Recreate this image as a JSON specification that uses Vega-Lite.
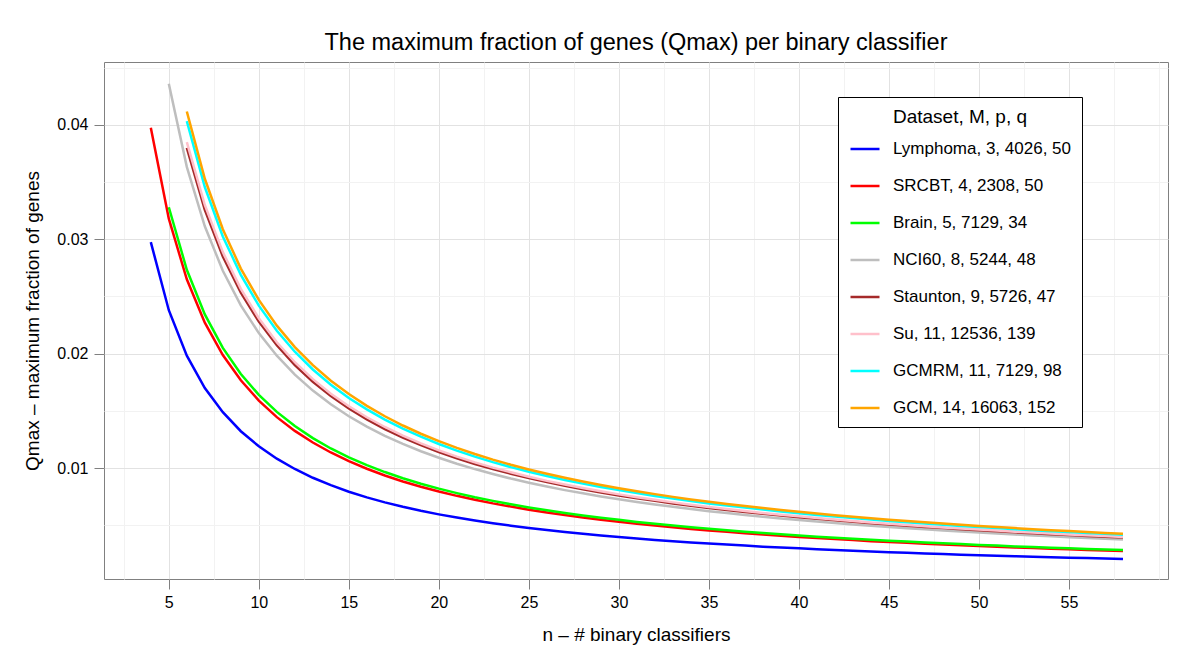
{
"$schema": "https://vega.github.io/schema/vega-lite/v6.json",
"width": 1064, "height": 517,
"autosize": {"type": "none"},
"padding": {"left": 104, "top": 62, "right": 32, "bottom": 86},
"background": "white",
"config": {"font": "Liberation Sans", "view": {"stroke": "#808080", "strokeWidth": 1}},
"title": {"text": "The maximum fraction of genes (Qmax) per binary classifier", "fontSize": 23.5, "fontWeight": "normal", "color": "black", "offset": 5},
"data": {"values": [
{"d":"Lymphoma, 3, 4026, 50","n":4,"q":0.02975},{"d":"Lymphoma, 3, 4026, 50","n":5,"q":0.0238},{"d":"Lymphoma, 3, 4026, 50","n":6,"q":0.01983},{"d":"Lymphoma, 3, 4026, 50","n":7,"q":0.017},{"d":"Lymphoma, 3, 4026, 50","n":8,"q":0.01488},{"d":"Lymphoma, 3, 4026, 50","n":9,"q":0.01322},{"d":"Lymphoma, 3, 4026, 50","n":10,"q":0.0119},{"d":"Lymphoma, 3, 4026, 50","n":11,"q":0.01082},{"d":"Lymphoma, 3, 4026, 50","n":12,"q":0.00992},{"d":"Lymphoma, 3, 4026, 50","n":13,"q":0.00915},{"d":"Lymphoma, 3, 4026, 50","n":14,"q":0.0085},{"d":"Lymphoma, 3, 4026, 50","n":15,"q":0.00793},{"d":"Lymphoma, 3, 4026, 50","n":16,"q":0.00744},{"d":"Lymphoma, 3, 4026, 50","n":17,"q":0.007},{"d":"Lymphoma, 3, 4026, 50","n":18,"q":0.00661},{"d":"Lymphoma, 3, 4026, 50","n":19,"q":0.00626},{"d":"Lymphoma, 3, 4026, 50","n":20,"q":0.00595},{"d":"Lymphoma, 3, 4026, 50","n":21,"q":0.00567},{"d":"Lymphoma, 3, 4026, 50","n":22,"q":0.00541},{"d":"Lymphoma, 3, 4026, 50","n":23,"q":0.00517},{"d":"Lymphoma, 3, 4026, 50","n":24,"q":0.00496},{"d":"Lymphoma, 3, 4026, 50","n":25,"q":0.00476},{"d":"Lymphoma, 3, 4026, 50","n":26,"q":0.00458},{"d":"Lymphoma, 3, 4026, 50","n":27,"q":0.00441},{"d":"Lymphoma, 3, 4026, 50","n":28,"q":0.00425},{"d":"Lymphoma, 3, 4026, 50","n":29,"q":0.0041},{"d":"Lymphoma, 3, 4026, 50","n":30,"q":0.00397},{"d":"Lymphoma, 3, 4026, 50","n":31,"q":0.00384},{"d":"Lymphoma, 3, 4026, 50","n":32,"q":0.00372},{"d":"Lymphoma, 3, 4026, 50","n":33,"q":0.00361},{"d":"Lymphoma, 3, 4026, 50","n":34,"q":0.0035},{"d":"Lymphoma, 3, 4026, 50","n":35,"q":0.0034},{"d":"Lymphoma, 3, 4026, 50","n":36,"q":0.00331},{"d":"Lymphoma, 3, 4026, 50","n":37,"q":0.00322},{"d":"Lymphoma, 3, 4026, 50","n":38,"q":0.00313},{"d":"Lymphoma, 3, 4026, 50","n":39,"q":0.00305},{"d":"Lymphoma, 3, 4026, 50","n":40,"q":0.00298},{"d":"Lymphoma, 3, 4026, 50","n":41,"q":0.0029},{"d":"Lymphoma, 3, 4026, 50","n":42,"q":0.00283},{"d":"Lymphoma, 3, 4026, 50","n":43,"q":0.00277},{"d":"Lymphoma, 3, 4026, 50","n":44,"q":0.0027},{"d":"Lymphoma, 3, 4026, 50","n":45,"q":0.00264},{"d":"Lymphoma, 3, 4026, 50","n":46,"q":0.00259},{"d":"Lymphoma, 3, 4026, 50","n":47,"q":0.00253},{"d":"Lymphoma, 3, 4026, 50","n":48,"q":0.00248},{"d":"Lymphoma, 3, 4026, 50","n":49,"q":0.00243},{"d":"Lymphoma, 3, 4026, 50","n":50,"q":0.00238},{"d":"Lymphoma, 3, 4026, 50","n":51,"q":0.00233},{"d":"Lymphoma, 3, 4026, 50","n":52,"q":0.00229},{"d":"Lymphoma, 3, 4026, 50","n":53,"q":0.00225},{"d":"Lymphoma, 3, 4026, 50","n":54,"q":0.0022},{"d":"Lymphoma, 3, 4026, 50","n":55,"q":0.00216},{"d":"Lymphoma, 3, 4026, 50","n":56,"q":0.00213},{"d":"Lymphoma, 3, 4026, 50","n":57,"q":0.00209},{"d":"Lymphoma, 3, 4026, 50","n":58,"q":0.00205},
{"d":"SRCBT, 4, 2308, 50","n":4,"q":0.03975},{"d":"SRCBT, 4, 2308, 50","n":5,"q":0.0318},{"d":"SRCBT, 4, 2308, 50","n":6,"q":0.0265},{"d":"SRCBT, 4, 2308, 50","n":7,"q":0.02271},{"d":"SRCBT, 4, 2308, 50","n":8,"q":0.01988},{"d":"SRCBT, 4, 2308, 50","n":9,"q":0.01767},{"d":"SRCBT, 4, 2308, 50","n":10,"q":0.0159},{"d":"SRCBT, 4, 2308, 50","n":11,"q":0.01445},{"d":"SRCBT, 4, 2308, 50","n":12,"q":0.01325},{"d":"SRCBT, 4, 2308, 50","n":13,"q":0.01223},{"d":"SRCBT, 4, 2308, 50","n":14,"q":0.01136},{"d":"SRCBT, 4, 2308, 50","n":15,"q":0.0106},{"d":"SRCBT, 4, 2308, 50","n":16,"q":0.00994},{"d":"SRCBT, 4, 2308, 50","n":17,"q":0.00935},{"d":"SRCBT, 4, 2308, 50","n":18,"q":0.00883},{"d":"SRCBT, 4, 2308, 50","n":19,"q":0.00837},{"d":"SRCBT, 4, 2308, 50","n":20,"q":0.00795},{"d":"SRCBT, 4, 2308, 50","n":21,"q":0.00757},{"d":"SRCBT, 4, 2308, 50","n":22,"q":0.00723},{"d":"SRCBT, 4, 2308, 50","n":23,"q":0.00691},{"d":"SRCBT, 4, 2308, 50","n":24,"q":0.00663},{"d":"SRCBT, 4, 2308, 50","n":25,"q":0.00636},{"d":"SRCBT, 4, 2308, 50","n":26,"q":0.00612},{"d":"SRCBT, 4, 2308, 50","n":27,"q":0.00589},{"d":"SRCBT, 4, 2308, 50","n":28,"q":0.00568},{"d":"SRCBT, 4, 2308, 50","n":29,"q":0.00548},{"d":"SRCBT, 4, 2308, 50","n":30,"q":0.0053},{"d":"SRCBT, 4, 2308, 50","n":31,"q":0.00513},{"d":"SRCBT, 4, 2308, 50","n":32,"q":0.00497},{"d":"SRCBT, 4, 2308, 50","n":33,"q":0.00482},{"d":"SRCBT, 4, 2308, 50","n":34,"q":0.00468},{"d":"SRCBT, 4, 2308, 50","n":35,"q":0.00454},{"d":"SRCBT, 4, 2308, 50","n":36,"q":0.00442},{"d":"SRCBT, 4, 2308, 50","n":37,"q":0.0043},{"d":"SRCBT, 4, 2308, 50","n":38,"q":0.00418},{"d":"SRCBT, 4, 2308, 50","n":39,"q":0.00408},{"d":"SRCBT, 4, 2308, 50","n":40,"q":0.00398},{"d":"SRCBT, 4, 2308, 50","n":41,"q":0.00388},{"d":"SRCBT, 4, 2308, 50","n":42,"q":0.00379},{"d":"SRCBT, 4, 2308, 50","n":43,"q":0.0037},{"d":"SRCBT, 4, 2308, 50","n":44,"q":0.00361},{"d":"SRCBT, 4, 2308, 50","n":45,"q":0.00353},{"d":"SRCBT, 4, 2308, 50","n":46,"q":0.00346},{"d":"SRCBT, 4, 2308, 50","n":47,"q":0.00338},{"d":"SRCBT, 4, 2308, 50","n":48,"q":0.00331},{"d":"SRCBT, 4, 2308, 50","n":49,"q":0.00324},{"d":"SRCBT, 4, 2308, 50","n":50,"q":0.00318},{"d":"SRCBT, 4, 2308, 50","n":51,"q":0.00312},{"d":"SRCBT, 4, 2308, 50","n":52,"q":0.00306},{"d":"SRCBT, 4, 2308, 50","n":53,"q":0.003},{"d":"SRCBT, 4, 2308, 50","n":54,"q":0.00294},{"d":"SRCBT, 4, 2308, 50","n":55,"q":0.00289},{"d":"SRCBT, 4, 2308, 50","n":56,"q":0.00284},{"d":"SRCBT, 4, 2308, 50","n":57,"q":0.00279},{"d":"SRCBT, 4, 2308, 50","n":58,"q":0.00274},
{"d":"Brain, 5, 7129, 34","n":5,"q":0.0328},{"d":"Brain, 5, 7129, 34","n":6,"q":0.02733},{"d":"Brain, 5, 7129, 34","n":7,"q":0.02343},{"d":"Brain, 5, 7129, 34","n":8,"q":0.0205},{"d":"Brain, 5, 7129, 34","n":9,"q":0.01822},{"d":"Brain, 5, 7129, 34","n":10,"q":0.0164},{"d":"Brain, 5, 7129, 34","n":11,"q":0.01491},{"d":"Brain, 5, 7129, 34","n":12,"q":0.01367},{"d":"Brain, 5, 7129, 34","n":13,"q":0.01262},{"d":"Brain, 5, 7129, 34","n":14,"q":0.01171},{"d":"Brain, 5, 7129, 34","n":15,"q":0.01093},{"d":"Brain, 5, 7129, 34","n":16,"q":0.01025},{"d":"Brain, 5, 7129, 34","n":17,"q":0.00965},{"d":"Brain, 5, 7129, 34","n":18,"q":0.00911},{"d":"Brain, 5, 7129, 34","n":19,"q":0.00863},{"d":"Brain, 5, 7129, 34","n":20,"q":0.0082},{"d":"Brain, 5, 7129, 34","n":21,"q":0.00781},{"d":"Brain, 5, 7129, 34","n":22,"q":0.00745},{"d":"Brain, 5, 7129, 34","n":23,"q":0.00713},{"d":"Brain, 5, 7129, 34","n":24,"q":0.00683},{"d":"Brain, 5, 7129, 34","n":25,"q":0.00656},{"d":"Brain, 5, 7129, 34","n":26,"q":0.00631},{"d":"Brain, 5, 7129, 34","n":27,"q":0.00607},{"d":"Brain, 5, 7129, 34","n":28,"q":0.00586},{"d":"Brain, 5, 7129, 34","n":29,"q":0.00566},{"d":"Brain, 5, 7129, 34","n":30,"q":0.00547},{"d":"Brain, 5, 7129, 34","n":31,"q":0.00529},{"d":"Brain, 5, 7129, 34","n":32,"q":0.00513},{"d":"Brain, 5, 7129, 34","n":33,"q":0.00497},{"d":"Brain, 5, 7129, 34","n":34,"q":0.00482},{"d":"Brain, 5, 7129, 34","n":35,"q":0.00469},{"d":"Brain, 5, 7129, 34","n":36,"q":0.00456},{"d":"Brain, 5, 7129, 34","n":37,"q":0.00443},{"d":"Brain, 5, 7129, 34","n":38,"q":0.00432},{"d":"Brain, 5, 7129, 34","n":39,"q":0.00421},{"d":"Brain, 5, 7129, 34","n":40,"q":0.0041},{"d":"Brain, 5, 7129, 34","n":41,"q":0.004},{"d":"Brain, 5, 7129, 34","n":42,"q":0.0039},{"d":"Brain, 5, 7129, 34","n":43,"q":0.00381},{"d":"Brain, 5, 7129, 34","n":44,"q":0.00373},{"d":"Brain, 5, 7129, 34","n":45,"q":0.00364},{"d":"Brain, 5, 7129, 34","n":46,"q":0.00357},{"d":"Brain, 5, 7129, 34","n":47,"q":0.00349},{"d":"Brain, 5, 7129, 34","n":48,"q":0.00342},{"d":"Brain, 5, 7129, 34","n":49,"q":0.00335},{"d":"Brain, 5, 7129, 34","n":50,"q":0.00328},{"d":"Brain, 5, 7129, 34","n":51,"q":0.00322},{"d":"Brain, 5, 7129, 34","n":52,"q":0.00315},{"d":"Brain, 5, 7129, 34","n":53,"q":0.00309},{"d":"Brain, 5, 7129, 34","n":54,"q":0.00304},{"d":"Brain, 5, 7129, 34","n":55,"q":0.00298},{"d":"Brain, 5, 7129, 34","n":56,"q":0.00293},{"d":"Brain, 5, 7129, 34","n":57,"q":0.00288},{"d":"Brain, 5, 7129, 34","n":58,"q":0.00283},
{"d":"NCI60, 8, 5244, 48","n":5,"q":0.0436},{"d":"NCI60, 8, 5244, 48","n":6,"q":0.03633},{"d":"NCI60, 8, 5244, 48","n":7,"q":0.03114},{"d":"NCI60, 8, 5244, 48","n":8,"q":0.02725},{"d":"NCI60, 8, 5244, 48","n":9,"q":0.02422},{"d":"NCI60, 8, 5244, 48","n":10,"q":0.0218},{"d":"NCI60, 8, 5244, 48","n":11,"q":0.01982},{"d":"NCI60, 8, 5244, 48","n":12,"q":0.01817},{"d":"NCI60, 8, 5244, 48","n":13,"q":0.01677},{"d":"NCI60, 8, 5244, 48","n":14,"q":0.01557},{"d":"NCI60, 8, 5244, 48","n":15,"q":0.01453},{"d":"NCI60, 8, 5244, 48","n":16,"q":0.01363},{"d":"NCI60, 8, 5244, 48","n":17,"q":0.01282},{"d":"NCI60, 8, 5244, 48","n":18,"q":0.01211},{"d":"NCI60, 8, 5244, 48","n":19,"q":0.01147},{"d":"NCI60, 8, 5244, 48","n":20,"q":0.0109},{"d":"NCI60, 8, 5244, 48","n":21,"q":0.01038},{"d":"NCI60, 8, 5244, 48","n":22,"q":0.00991},{"d":"NCI60, 8, 5244, 48","n":23,"q":0.00948},{"d":"NCI60, 8, 5244, 48","n":24,"q":0.00908},{"d":"NCI60, 8, 5244, 48","n":25,"q":0.00872},{"d":"NCI60, 8, 5244, 48","n":26,"q":0.00838},{"d":"NCI60, 8, 5244, 48","n":27,"q":0.00807},{"d":"NCI60, 8, 5244, 48","n":28,"q":0.00779},{"d":"NCI60, 8, 5244, 48","n":29,"q":0.00752},{"d":"NCI60, 8, 5244, 48","n":30,"q":0.00727},{"d":"NCI60, 8, 5244, 48","n":31,"q":0.00703},{"d":"NCI60, 8, 5244, 48","n":32,"q":0.00681},{"d":"NCI60, 8, 5244, 48","n":33,"q":0.00661},{"d":"NCI60, 8, 5244, 48","n":34,"q":0.00641},{"d":"NCI60, 8, 5244, 48","n":35,"q":0.00623},{"d":"NCI60, 8, 5244, 48","n":36,"q":0.00606},{"d":"NCI60, 8, 5244, 48","n":37,"q":0.00589},{"d":"NCI60, 8, 5244, 48","n":38,"q":0.00574},{"d":"NCI60, 8, 5244, 48","n":39,"q":0.00559},{"d":"NCI60, 8, 5244, 48","n":40,"q":0.00545},{"d":"NCI60, 8, 5244, 48","n":41,"q":0.00532},{"d":"NCI60, 8, 5244, 48","n":42,"q":0.00519},{"d":"NCI60, 8, 5244, 48","n":43,"q":0.00507},{"d":"NCI60, 8, 5244, 48","n":44,"q":0.00495},{"d":"NCI60, 8, 5244, 48","n":45,"q":0.00484},{"d":"NCI60, 8, 5244, 48","n":46,"q":0.00474},{"d":"NCI60, 8, 5244, 48","n":47,"q":0.00464},{"d":"NCI60, 8, 5244, 48","n":48,"q":0.00454},{"d":"NCI60, 8, 5244, 48","n":49,"q":0.00445},{"d":"NCI60, 8, 5244, 48","n":50,"q":0.00436},{"d":"NCI60, 8, 5244, 48","n":51,"q":0.00427},{"d":"NCI60, 8, 5244, 48","n":52,"q":0.00419},{"d":"NCI60, 8, 5244, 48","n":53,"q":0.00411},{"d":"NCI60, 8, 5244, 48","n":54,"q":0.00404},{"d":"NCI60, 8, 5244, 48","n":55,"q":0.00396},{"d":"NCI60, 8, 5244, 48","n":56,"q":0.00389},{"d":"NCI60, 8, 5244, 48","n":57,"q":0.00382},{"d":"NCI60, 8, 5244, 48","n":58,"q":0.00376},
{"d":"Staunton, 9, 5726, 47","n":6,"q":0.038},{"d":"Staunton, 9, 5726, 47","n":7,"q":0.03257},{"d":"Staunton, 9, 5726, 47","n":8,"q":0.0285},{"d":"Staunton, 9, 5726, 47","n":9,"q":0.02533},{"d":"Staunton, 9, 5726, 47","n":10,"q":0.0228},{"d":"Staunton, 9, 5726, 47","n":11,"q":0.02073},{"d":"Staunton, 9, 5726, 47","n":12,"q":0.019},{"d":"Staunton, 9, 5726, 47","n":13,"q":0.01754},{"d":"Staunton, 9, 5726, 47","n":14,"q":0.01629},{"d":"Staunton, 9, 5726, 47","n":15,"q":0.0152},{"d":"Staunton, 9, 5726, 47","n":16,"q":0.01425},{"d":"Staunton, 9, 5726, 47","n":17,"q":0.01341},{"d":"Staunton, 9, 5726, 47","n":18,"q":0.01267},{"d":"Staunton, 9, 5726, 47","n":19,"q":0.012},{"d":"Staunton, 9, 5726, 47","n":20,"q":0.0114},{"d":"Staunton, 9, 5726, 47","n":21,"q":0.01086},{"d":"Staunton, 9, 5726, 47","n":22,"q":0.01036},{"d":"Staunton, 9, 5726, 47","n":23,"q":0.00991},{"d":"Staunton, 9, 5726, 47","n":24,"q":0.0095},{"d":"Staunton, 9, 5726, 47","n":25,"q":0.00912},{"d":"Staunton, 9, 5726, 47","n":26,"q":0.00877},{"d":"Staunton, 9, 5726, 47","n":27,"q":0.00844},{"d":"Staunton, 9, 5726, 47","n":28,"q":0.00814},{"d":"Staunton, 9, 5726, 47","n":29,"q":0.00786},{"d":"Staunton, 9, 5726, 47","n":30,"q":0.0076},{"d":"Staunton, 9, 5726, 47","n":31,"q":0.00735},{"d":"Staunton, 9, 5726, 47","n":32,"q":0.00713},{"d":"Staunton, 9, 5726, 47","n":33,"q":0.00691},{"d":"Staunton, 9, 5726, 47","n":34,"q":0.00671},{"d":"Staunton, 9, 5726, 47","n":35,"q":0.00651},{"d":"Staunton, 9, 5726, 47","n":36,"q":0.00633},{"d":"Staunton, 9, 5726, 47","n":37,"q":0.00616},{"d":"Staunton, 9, 5726, 47","n":38,"q":0.006},{"d":"Staunton, 9, 5726, 47","n":39,"q":0.00585},{"d":"Staunton, 9, 5726, 47","n":40,"q":0.0057},{"d":"Staunton, 9, 5726, 47","n":41,"q":0.00556},{"d":"Staunton, 9, 5726, 47","n":42,"q":0.00543},{"d":"Staunton, 9, 5726, 47","n":43,"q":0.0053},{"d":"Staunton, 9, 5726, 47","n":44,"q":0.00518},{"d":"Staunton, 9, 5726, 47","n":45,"q":0.00507},{"d":"Staunton, 9, 5726, 47","n":46,"q":0.00496},{"d":"Staunton, 9, 5726, 47","n":47,"q":0.00485},{"d":"Staunton, 9, 5726, 47","n":48,"q":0.00475},{"d":"Staunton, 9, 5726, 47","n":49,"q":0.00465},{"d":"Staunton, 9, 5726, 47","n":50,"q":0.00456},{"d":"Staunton, 9, 5726, 47","n":51,"q":0.00447},{"d":"Staunton, 9, 5726, 47","n":52,"q":0.00438},{"d":"Staunton, 9, 5726, 47","n":53,"q":0.0043},{"d":"Staunton, 9, 5726, 47","n":54,"q":0.00422},{"d":"Staunton, 9, 5726, 47","n":55,"q":0.00415},{"d":"Staunton, 9, 5726, 47","n":56,"q":0.00407},{"d":"Staunton, 9, 5726, 47","n":57,"q":0.004},{"d":"Staunton, 9, 5726, 47","n":58,"q":0.00393},
{"d":"Su, 11, 12536, 139","n":6,"q":0.0385},{"d":"Su, 11, 12536, 139","n":7,"q":0.033},{"d":"Su, 11, 12536, 139","n":8,"q":0.02888},{"d":"Su, 11, 12536, 139","n":9,"q":0.02567},{"d":"Su, 11, 12536, 139","n":10,"q":0.0231},{"d":"Su, 11, 12536, 139","n":11,"q":0.021},{"d":"Su, 11, 12536, 139","n":12,"q":0.01925},{"d":"Su, 11, 12536, 139","n":13,"q":0.01777},{"d":"Su, 11, 12536, 139","n":14,"q":0.0165},{"d":"Su, 11, 12536, 139","n":15,"q":0.0154},{"d":"Su, 11, 12536, 139","n":16,"q":0.01444},{"d":"Su, 11, 12536, 139","n":17,"q":0.01359},{"d":"Su, 11, 12536, 139","n":18,"q":0.01283},{"d":"Su, 11, 12536, 139","n":19,"q":0.01216},{"d":"Su, 11, 12536, 139","n":20,"q":0.01155},{"d":"Su, 11, 12536, 139","n":21,"q":0.011},{"d":"Su, 11, 12536, 139","n":22,"q":0.0105},{"d":"Su, 11, 12536, 139","n":23,"q":0.01004},{"d":"Su, 11, 12536, 139","n":24,"q":0.00963},{"d":"Su, 11, 12536, 139","n":25,"q":0.00924},{"d":"Su, 11, 12536, 139","n":26,"q":0.00888},{"d":"Su, 11, 12536, 139","n":27,"q":0.00856},{"d":"Su, 11, 12536, 139","n":28,"q":0.00825},{"d":"Su, 11, 12536, 139","n":29,"q":0.00797},{"d":"Su, 11, 12536, 139","n":30,"q":0.0077},{"d":"Su, 11, 12536, 139","n":31,"q":0.00745},{"d":"Su, 11, 12536, 139","n":32,"q":0.00722},{"d":"Su, 11, 12536, 139","n":33,"q":0.007},{"d":"Su, 11, 12536, 139","n":34,"q":0.00679},{"d":"Su, 11, 12536, 139","n":35,"q":0.0066},{"d":"Su, 11, 12536, 139","n":36,"q":0.00642},{"d":"Su, 11, 12536, 139","n":37,"q":0.00624},{"d":"Su, 11, 12536, 139","n":38,"q":0.00608},{"d":"Su, 11, 12536, 139","n":39,"q":0.00592},{"d":"Su, 11, 12536, 139","n":40,"q":0.00578},{"d":"Su, 11, 12536, 139","n":41,"q":0.00563},{"d":"Su, 11, 12536, 139","n":42,"q":0.0055},{"d":"Su, 11, 12536, 139","n":43,"q":0.00537},{"d":"Su, 11, 12536, 139","n":44,"q":0.00525},{"d":"Su, 11, 12536, 139","n":45,"q":0.00513},{"d":"Su, 11, 12536, 139","n":46,"q":0.00502},{"d":"Su, 11, 12536, 139","n":47,"q":0.00491},{"d":"Su, 11, 12536, 139","n":48,"q":0.00481},{"d":"Su, 11, 12536, 139","n":49,"q":0.00471},{"d":"Su, 11, 12536, 139","n":50,"q":0.00462},{"d":"Su, 11, 12536, 139","n":51,"q":0.00453},{"d":"Su, 11, 12536, 139","n":52,"q":0.00444},{"d":"Su, 11, 12536, 139","n":53,"q":0.00436},{"d":"Su, 11, 12536, 139","n":54,"q":0.00428},{"d":"Su, 11, 12536, 139","n":55,"q":0.0042},{"d":"Su, 11, 12536, 139","n":56,"q":0.00413},{"d":"Su, 11, 12536, 139","n":57,"q":0.00405},{"d":"Su, 11, 12536, 139","n":58,"q":0.00398},
{"d":"GCMRM, 11, 7129, 98","n":6,"q":0.04033},{"d":"GCMRM, 11, 7129, 98","n":7,"q":0.03457},{"d":"GCMRM, 11, 7129, 98","n":8,"q":0.03025},{"d":"GCMRM, 11, 7129, 98","n":9,"q":0.02689},{"d":"GCMRM, 11, 7129, 98","n":10,"q":0.0242},{"d":"GCMRM, 11, 7129, 98","n":11,"q":0.022},{"d":"GCMRM, 11, 7129, 98","n":12,"q":0.02017},{"d":"GCMRM, 11, 7129, 98","n":13,"q":0.01862},{"d":"GCMRM, 11, 7129, 98","n":14,"q":0.01729},{"d":"GCMRM, 11, 7129, 98","n":15,"q":0.01613},{"d":"GCMRM, 11, 7129, 98","n":16,"q":0.01513},{"d":"GCMRM, 11, 7129, 98","n":17,"q":0.01424},{"d":"GCMRM, 11, 7129, 98","n":18,"q":0.01344},{"d":"GCMRM, 11, 7129, 98","n":19,"q":0.01274},{"d":"GCMRM, 11, 7129, 98","n":20,"q":0.0121},{"d":"GCMRM, 11, 7129, 98","n":21,"q":0.01152},{"d":"GCMRM, 11, 7129, 98","n":22,"q":0.011},{"d":"GCMRM, 11, 7129, 98","n":23,"q":0.01052},{"d":"GCMRM, 11, 7129, 98","n":24,"q":0.01008},{"d":"GCMRM, 11, 7129, 98","n":25,"q":0.00968},{"d":"GCMRM, 11, 7129, 98","n":26,"q":0.00931},{"d":"GCMRM, 11, 7129, 98","n":27,"q":0.00896},{"d":"GCMRM, 11, 7129, 98","n":28,"q":0.00864},{"d":"GCMRM, 11, 7129, 98","n":29,"q":0.00834},{"d":"GCMRM, 11, 7129, 98","n":30,"q":0.00807},{"d":"GCMRM, 11, 7129, 98","n":31,"q":0.00781},{"d":"GCMRM, 11, 7129, 98","n":32,"q":0.00756},{"d":"GCMRM, 11, 7129, 98","n":33,"q":0.00733},{"d":"GCMRM, 11, 7129, 98","n":34,"q":0.00712},{"d":"GCMRM, 11, 7129, 98","n":35,"q":0.00691},{"d":"GCMRM, 11, 7129, 98","n":36,"q":0.00672},{"d":"GCMRM, 11, 7129, 98","n":37,"q":0.00654},{"d":"GCMRM, 11, 7129, 98","n":38,"q":0.00637},{"d":"GCMRM, 11, 7129, 98","n":39,"q":0.00621},{"d":"GCMRM, 11, 7129, 98","n":40,"q":0.00605},{"d":"GCMRM, 11, 7129, 98","n":41,"q":0.0059},{"d":"GCMRM, 11, 7129, 98","n":42,"q":0.00576},{"d":"GCMRM, 11, 7129, 98","n":43,"q":0.00563},{"d":"GCMRM, 11, 7129, 98","n":44,"q":0.0055},{"d":"GCMRM, 11, 7129, 98","n":45,"q":0.00538},{"d":"GCMRM, 11, 7129, 98","n":46,"q":0.00526},{"d":"GCMRM, 11, 7129, 98","n":47,"q":0.00515},{"d":"GCMRM, 11, 7129, 98","n":48,"q":0.00504},{"d":"GCMRM, 11, 7129, 98","n":49,"q":0.00494},{"d":"GCMRM, 11, 7129, 98","n":50,"q":0.00484},{"d":"GCMRM, 11, 7129, 98","n":51,"q":0.00475},{"d":"GCMRM, 11, 7129, 98","n":52,"q":0.00465},{"d":"GCMRM, 11, 7129, 98","n":53,"q":0.00457},{"d":"GCMRM, 11, 7129, 98","n":54,"q":0.00448},{"d":"GCMRM, 11, 7129, 98","n":55,"q":0.0044},{"d":"GCMRM, 11, 7129, 98","n":56,"q":0.00432},{"d":"GCMRM, 11, 7129, 98","n":57,"q":0.00425},{"d":"GCMRM, 11, 7129, 98","n":58,"q":0.00417},
{"d":"GCM, 14, 16063, 152","n":6,"q":0.04117},{"d":"GCM, 14, 16063, 152","n":7,"q":0.03529},{"d":"GCM, 14, 16063, 152","n":8,"q":0.03088},{"d":"GCM, 14, 16063, 152","n":9,"q":0.02744},{"d":"GCM, 14, 16063, 152","n":10,"q":0.0247},{"d":"GCM, 14, 16063, 152","n":11,"q":0.02245},{"d":"GCM, 14, 16063, 152","n":12,"q":0.02058},{"d":"GCM, 14, 16063, 152","n":13,"q":0.019},{"d":"GCM, 14, 16063, 152","n":14,"q":0.01764},{"d":"GCM, 14, 16063, 152","n":15,"q":0.01647},{"d":"GCM, 14, 16063, 152","n":16,"q":0.01544},{"d":"GCM, 14, 16063, 152","n":17,"q":0.01453},{"d":"GCM, 14, 16063, 152","n":18,"q":0.01372},{"d":"GCM, 14, 16063, 152","n":19,"q":0.013},{"d":"GCM, 14, 16063, 152","n":20,"q":0.01235},{"d":"GCM, 14, 16063, 152","n":21,"q":0.01176},{"d":"GCM, 14, 16063, 152","n":22,"q":0.01123},{"d":"GCM, 14, 16063, 152","n":23,"q":0.01074},{"d":"GCM, 14, 16063, 152","n":24,"q":0.01029},{"d":"GCM, 14, 16063, 152","n":25,"q":0.00988},{"d":"GCM, 14, 16063, 152","n":26,"q":0.0095},{"d":"GCM, 14, 16063, 152","n":27,"q":0.00915},{"d":"GCM, 14, 16063, 152","n":28,"q":0.00882},{"d":"GCM, 14, 16063, 152","n":29,"q":0.00852},{"d":"GCM, 14, 16063, 152","n":30,"q":0.00823},{"d":"GCM, 14, 16063, 152","n":31,"q":0.00797},{"d":"GCM, 14, 16063, 152","n":32,"q":0.00772},{"d":"GCM, 14, 16063, 152","n":33,"q":0.00748},{"d":"GCM, 14, 16063, 152","n":34,"q":0.00726},{"d":"GCM, 14, 16063, 152","n":35,"q":0.00706},{"d":"GCM, 14, 16063, 152","n":36,"q":0.00686},{"d":"GCM, 14, 16063, 152","n":37,"q":0.00668},{"d":"GCM, 14, 16063, 152","n":38,"q":0.0065},{"d":"GCM, 14, 16063, 152","n":39,"q":0.00633},{"d":"GCM, 14, 16063, 152","n":40,"q":0.00618},{"d":"GCM, 14, 16063, 152","n":41,"q":0.00602},{"d":"GCM, 14, 16063, 152","n":42,"q":0.00588},{"d":"GCM, 14, 16063, 152","n":43,"q":0.00574},{"d":"GCM, 14, 16063, 152","n":44,"q":0.00561},{"d":"GCM, 14, 16063, 152","n":45,"q":0.00549},{"d":"GCM, 14, 16063, 152","n":46,"q":0.00537},{"d":"GCM, 14, 16063, 152","n":47,"q":0.00526},{"d":"GCM, 14, 16063, 152","n":48,"q":0.00515},{"d":"GCM, 14, 16063, 152","n":49,"q":0.00504},{"d":"GCM, 14, 16063, 152","n":50,"q":0.00494},{"d":"GCM, 14, 16063, 152","n":51,"q":0.00484},{"d":"GCM, 14, 16063, 152","n":52,"q":0.00475},{"d":"GCM, 14, 16063, 152","n":53,"q":0.00466},{"d":"GCM, 14, 16063, 152","n":54,"q":0.00457},{"d":"GCM, 14, 16063, 152","n":55,"q":0.00449},{"d":"GCM, 14, 16063, 152","n":56,"q":0.00441},{"d":"GCM, 14, 16063, 152","n":57,"q":0.00433},{"d":"GCM, 14, 16063, 152","n":58,"q":0.00426}
]},
"mark": {"type": "line", "strokeWidth": 2.5, "clip": true},
"encoding": {
  "x": {"field": "n", "type": "quantitative",
    "scale": {"domain": [1.4, 60.5], "nice": false, "zero": false},
    "axis": {"title": "n – # binary classifiers", "titleFontSize": 19, "titleFontWeight": "normal", "titleColor": "black", "titlePadding": 15,
      "values": [2.5,5,7.5,10,12.5,15,17.5,20,22.5,25,27.5,30,32.5,35,37.5,40,42.5,45,47.5,50,52.5,55,57.5,60],
      "labelExpr": "(datum.value % 5 === 0 && datum.value < 60) ? '' + datum.value : ''",
      "labelFontSize": 16, "labelColor": "black", "labelPadding": 5, "labelFlush": false, "labelOverlap": false,
      "tickSize": 10,
      "tickColor": {"condition": {"test": "datum.value % 5 === 0 && datum.value < 60", "value": "#808080"}, "value": "transparent"},
      "grid": true,
      "gridColor": {"condition": {"test": "datum.value % 5 === 0 && datum.value < 60", "value": "#e2e2e2"}, "value": "#f2f2f2"},
      "domain": false}},
  "y": {"field": "q", "type": "quantitative",
    "scale": {"domain": [0.0003, 0.0455], "nice": false, "zero": false},
    "axis": {"title": "Qmax – maximum fraction of genes", "titleFontSize": 19, "titleFontWeight": "normal", "titleColor": "black", "titlePadding": 14,
      "values": [0.005,0.01,0.015,0.02,0.025,0.03,0.035,0.04,0.045],
      "labelExpr": "abs(datum.value*100 - round(datum.value*100)) < 0.000001 ? format(datum.value, '.2f') : ''",
      "labelFontSize": 16, "labelColor": "black", "labelPadding": 6, "labelFlush": false, "labelOverlap": false,
      "tickSize": 10,
      "tickColor": {"condition": {"test": "abs(datum.value*100 - round(datum.value*100)) < 0.000001", "value": "#808080"}, "value": "transparent"},
      "grid": true,
      "gridColor": {"condition": {"test": "abs(datum.value*100 - round(datum.value*100)) < 0.000001", "value": "#e2e2e2"}, "value": "#f2f2f2"},
      "domain": false}},
  "color": {"field": "d", "type": "nominal",
    "scale": {"domain": ["Lymphoma, 3, 4026, 50","SRCBT, 4, 2308, 50","Brain, 5, 7129, 34","NCI60, 8, 5244, 48","Staunton, 9, 5726, 47","Su, 11, 12536, 139","GCMRM, 11, 7129, 98","GCM, 14, 16063, 152"],
      "range": ["#0000ff","#ff0000","#00ff00","#bebebe","#a52a2a","#ffc0cb","#00ffff","#ffa500"]},
    "legend": {"orient": "none", "legendX": 734, "legendY": 35, "title": "Dataset, M, p, q", "titleFontSize": 19, "titleFontWeight": "normal", "titleColor": "black", "titleAnchor": "middle", "titlePadding": 6,
      "fillColor": "white", "strokeColor": "black", "padding": 11, "cornerRadius": 0,
      "symbolType": "stroke", "symbolSize": 841, "symbolStrokeWidth": 2.5,
      "labelFontSize": 17, "labelColor": "black", "labelOffset": 12, "rowPadding": 13, "labelLimit": 400}}
}
}
